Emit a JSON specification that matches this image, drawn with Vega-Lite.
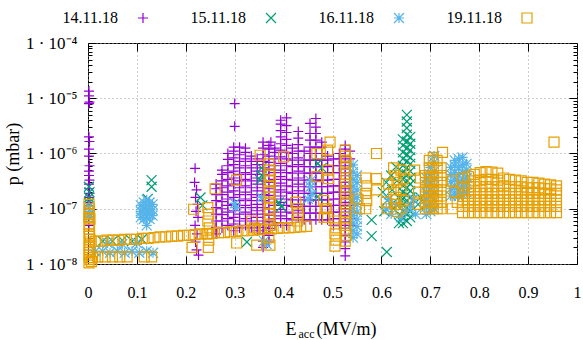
{
"$schema": "https://vega.github.io/schema/vega-lite/v6.json",
"width": 489, "height": 221,
"autosize": {"type": "none"},
"padding": {"left": 88, "top": 43, "right": 6, "bottom": 76},
"background": "white",
"config": {
 "view": {"stroke": "black", "strokeWidth": 1},
 "font": "Liberation Serif",
 "axis": {"labelFont": "Liberation Serif", "labelFontSize": 16, "labelColor": "black", "titleFont": "Liberation Serif", "titleFontSize": 18, "titleFontWeight": "normal", "titleColor": "black", "tickColor": "black", "tickWidth": 1, "domain": false, "grid": false, "labelFlush": false, "labelOverlap": false},
 "legend": {"orient": "none", "legendX": 47, "legendY": -33, "direction": "horizontal", "columnPadding": 39, "labelOffset": -33, "labelAlign": "right", "labelFont": "Liberation Serif", "labelFontSize": 16, "labelColor": "black", "symbolStrokeWidth": 1.2, "symbolSize": 100, "padding": 0}
},
"datasets": {
"d14": [
{"E":0.002,"p":1.35e-5},{"E":0.002,"p":1.1e-5},{"E":0.003,"p":8.5e-6},{"E":0.002,"p":8e-6},{"E":0.002,"p":2e-6},{"E":0.003,"p":1.65e-6},{"E":0.002,"p":1.2e-6},{"E":0.002,"p":9e-7},{"E":0.003,"p":6e-7},{"E":0.002,"p":4.8e-7},{"E":0.002,"p":4e-7},{"E":0.003,"p":3.3e-7},{"E":0.002,"p":2.8e-7},{"E":0.002,"p":2.3e-7},{"E":0.003,"p":1.9e-7},{"E":0.002,"p":1.6e-7},{"E":0.002,"p":1.3e-7},{"E":0.003,"p":1e-7},{"E":0.002,"p":7e-8},{"E":0.002,"p":5e-8},
{"E":0.219,"p":5.4e-7},{"E":0.218,"p":3e-7},{"E":0.222,"p":2.2e-7},{"E":0.22,"p":1.6e-7},{"E":0.224,"p":1.2e-7},{"E":0.221,"p":9e-8},{"E":0.225,"p":7e-8},{"E":0.219,"p":5e-8},{"E":0.223,"p":3.5e-8},{"E":0.22,"p":2.5e-8},{"E":0.222,"p":1.8e-8},{"E":0.226,"p":1.45e-8},
{"E":0.3,"p":8e-6},{"E":0.3,"p":3.1e-6},{"E":0.374,"p":1.6e-6},
{"E":0.262,"p":3.5e-8},{"E":0.262,"p":4.6e-8},{"E":0.262,"p":6e-8},{"E":0.262,"p":8e-8},{"E":0.262,"p":1.05e-7},{"E":0.262,"p":1.4e-7},{"E":0.262,"p":1.8e-7},{"E":0.262,"p":2.3e-7},{"E":0.262,"p":2.8e-7},
{"E":0.274,"p":4.5e-8},{"E":0.274,"p":6e-8},{"E":0.274,"p":7.8e-8},{"E":0.274,"p":1e-7},{"E":0.274,"p":1.35e-7},{"E":0.274,"p":1.8e-7},{"E":0.274,"p":2.4e-7},{"E":0.274,"p":3.2e-7},{"E":0.274,"p":4.2e-7},{"E":0.274,"p":5e-7},
{"E":0.286,"p":5e-8},{"E":0.286,"p":6.6e-8},{"E":0.286,"p":8.7e-8},{"E":0.286,"p":1.15e-7},{"E":0.286,"p":1.5e-7},{"E":0.286,"p":2e-7},{"E":0.286,"p":2.6e-7},{"E":0.286,"p":3.4e-7},{"E":0.286,"p":4.5e-7},{"E":0.286,"p":6e-7},{"E":0.286,"p":7.8e-7},{"E":0.286,"p":1e-6},
{"E":0.298,"p":4e-8},{"E":0.298,"p":5.3e-8},{"E":0.298,"p":7e-8},{"E":0.298,"p":9.2e-8},{"E":0.298,"p":1.2e-7},{"E":0.298,"p":1.6e-7},{"E":0.298,"p":2.1e-7},{"E":0.298,"p":2.8e-7},{"E":0.298,"p":3.6e-7},{"E":0.298,"p":4.8e-7},{"E":0.298,"p":6.3e-7},{"E":0.298,"p":8.3e-7},{"E":0.298,"p":1.1e-6},{"E":0.298,"p":1.3e-6},
{"E":0.31,"p":4.5e-8},{"E":0.31,"p":6e-8},{"E":0.31,"p":8e-8},{"E":0.31,"p":1.05e-7},{"E":0.31,"p":1.4e-7},{"E":0.31,"p":1.8e-7},{"E":0.31,"p":2.4e-7},{"E":0.31,"p":3.2e-7},{"E":0.31,"p":4.2e-7},{"E":0.31,"p":5.5e-7},{"E":0.31,"p":7.2e-7},{"E":0.31,"p":9.5e-7},{"E":0.31,"p":1.3e-6},
{"E":0.322,"p":5e-8},{"E":0.322,"p":6.6e-8},{"E":0.322,"p":8.7e-8},{"E":0.322,"p":1.15e-7},{"E":0.322,"p":1.5e-7},{"E":0.322,"p":2e-7},{"E":0.322,"p":2.6e-7},{"E":0.322,"p":3.4e-7},{"E":0.322,"p":4.5e-7},{"E":0.322,"p":6e-7},{"E":0.322,"p":8e-7},{"E":0.322,"p":1.05e-6},{"E":0.322,"p":1.25e-6},
{"E":0.334,"p":4.5e-8},{"E":0.334,"p":6e-8},{"E":0.334,"p":8e-8},{"E":0.334,"p":1.05e-7},{"E":0.334,"p":1.4e-7},{"E":0.334,"p":1.8e-7},{"E":0.334,"p":2.4e-7},{"E":0.334,"p":3.2e-7},{"E":0.334,"p":4.2e-7},{"E":0.334,"p":5.5e-7},{"E":0.334,"p":7.2e-7},{"E":0.334,"p":9e-7},
{"E":0.346,"p":4e-8},{"E":0.346,"p":5.3e-8},{"E":0.346,"p":7e-8},{"E":0.346,"p":9.2e-8},{"E":0.346,"p":1.2e-7},{"E":0.346,"p":1.6e-7},{"E":0.346,"p":2.1e-7},{"E":0.346,"p":2.8e-7},{"E":0.346,"p":3.6e-7},{"E":0.346,"p":4.8e-7},{"E":0.346,"p":6.3e-7},{"E":0.346,"p":8e-7},
{"E":0.358,"p":2e-8},{"E":0.358,"p":2.6e-8},{"E":0.358,"p":3.5e-8},{"E":0.358,"p":4.6e-8},{"E":0.358,"p":6e-8},{"E":0.358,"p":8e-8},{"E":0.358,"p":1.05e-7},{"E":0.358,"p":1.4e-7},{"E":0.358,"p":1.8e-7},{"E":0.358,"p":2.4e-7},{"E":0.358,"p":3.2e-7},{"E":0.358,"p":4.2e-7},{"E":0.358,"p":5.5e-7},{"E":0.358,"p":7.2e-7},{"E":0.358,"p":9.5e-7},{"E":0.358,"p":1.25e-6},{"E":0.358,"p":1.6e-6},
{"E":0.37,"p":2.5e-8},{"E":0.37,"p":3.3e-8},{"E":0.37,"p":4.4e-8},{"E":0.37,"p":5.8e-8},{"E":0.37,"p":7.6e-8},{"E":0.37,"p":1e-7},{"E":0.37,"p":1.3e-7},{"E":0.37,"p":1.75e-7},{"E":0.37,"p":2.3e-7},{"E":0.37,"p":3e-7},{"E":0.37,"p":4e-7},{"E":0.37,"p":5.2e-7},{"E":0.37,"p":6.9e-7},{"E":0.37,"p":9e-7},{"E":0.37,"p":1.2e-6},{"E":0.37,"p":1.4e-6},
{"E":0.382,"p":5e-8},{"E":0.382,"p":6.6e-8},{"E":0.382,"p":8.7e-8},{"E":0.382,"p":1.15e-7},{"E":0.382,"p":1.5e-7},{"E":0.382,"p":2e-7},{"E":0.382,"p":2.6e-7},{"E":0.382,"p":3.4e-7},{"E":0.382,"p":4.5e-7},{"E":0.382,"p":6e-7},{"E":0.382,"p":8e-7},{"E":0.382,"p":1.05e-6},{"E":0.382,"p":1.25e-6},
{"E":0.394,"p":5.6e-8},{"E":0.394,"p":7.4e-8},{"E":0.394,"p":9.7e-8},{"E":0.394,"p":1.3e-7},{"E":0.394,"p":1.7e-7},{"E":0.394,"p":2.2e-7},{"E":0.394,"p":2.9e-7},{"E":0.394,"p":3.8e-7},{"E":0.394,"p":5e-7},{"E":0.394,"p":6.6e-7},{"E":0.394,"p":8.7e-7},{"E":0.394,"p":1.15e-6},{"E":0.394,"p":1.5e-6},{"E":0.394,"p":2e-6},{"E":0.394,"p":2.6e-6},{"E":0.394,"p":3.4e-6},{"E":0.394,"p":4e-6},
{"E":0.406,"p":5e-8},{"E":0.406,"p":6.6e-8},{"E":0.406,"p":8.7e-8},{"E":0.406,"p":1.15e-7},{"E":0.406,"p":1.5e-7},{"E":0.406,"p":2e-7},{"E":0.406,"p":2.6e-7},{"E":0.406,"p":3.4e-7},{"E":0.406,"p":4.5e-7},{"E":0.406,"p":6e-7},{"E":0.406,"p":8e-7},{"E":0.406,"p":1.05e-6},{"E":0.406,"p":1.4e-6},{"E":0.406,"p":1.8e-6},{"E":0.406,"p":2.4e-6},{"E":0.406,"p":3.2e-6},{"E":0.406,"p":4.4e-6},
{"E":0.418,"p":6.3e-8},{"E":0.418,"p":8.3e-8},{"E":0.418,"p":1.1e-7},{"E":0.418,"p":1.45e-7},{"E":0.418,"p":1.9e-7},{"E":0.418,"p":2.5e-7},{"E":0.418,"p":3.3e-7},{"E":0.418,"p":4.4e-7},{"E":0.418,"p":5.8e-7},{"E":0.418,"p":7.6e-7},{"E":0.418,"p":1e-6},{"E":0.418,"p":1.25e-6},
{"E":0.43,"p":7e-8},{"E":0.43,"p":9.2e-8},{"E":0.43,"p":1.2e-7},{"E":0.43,"p":1.6e-7},{"E":0.43,"p":2.1e-7},{"E":0.43,"p":2.8e-7},{"E":0.43,"p":3.6e-7},{"E":0.43,"p":4.8e-7},{"E":0.43,"p":6.3e-7},{"E":0.43,"p":8.3e-7},{"E":0.43,"p":1.1e-6},{"E":0.43,"p":1.45e-6},{"E":0.43,"p":1.9e-6},{"E":0.43,"p":2.5e-6},
{"E":0.442,"p":6.3e-8},{"E":0.442,"p":8.3e-8},{"E":0.442,"p":1.1e-7},{"E":0.442,"p":1.45e-7},{"E":0.442,"p":1.9e-7},{"E":0.442,"p":2.5e-7},{"E":0.442,"p":3.3e-7},{"E":0.442,"p":4.4e-7},{"E":0.442,"p":5.8e-7},{"E":0.442,"p":7.6e-7},{"E":0.442,"p":1.1e-6},
{"E":0.454,"p":6.3e-8},{"E":0.454,"p":8.3e-8},{"E":0.454,"p":1.1e-7},{"E":0.454,"p":1.45e-7},{"E":0.454,"p":1.9e-7},{"E":0.454,"p":2.5e-7},{"E":0.454,"p":3.3e-7},{"E":0.454,"p":4.4e-7},{"E":0.454,"p":5.8e-7},{"E":0.454,"p":7.6e-7},{"E":0.454,"p":1e-6},{"E":0.454,"p":1.3e-6},{"E":0.454,"p":1.75e-6},{"E":0.454,"p":2.3e-6},{"E":0.454,"p":3.5e-6},
{"E":0.466,"p":6.3e-8},{"E":0.466,"p":8.3e-8},{"E":0.466,"p":1.1e-7},{"E":0.466,"p":1.45e-7},{"E":0.466,"p":1.9e-7},{"E":0.466,"p":2.5e-7},{"E":0.466,"p":3.3e-7},{"E":0.466,"p":4.4e-7},{"E":0.466,"p":5.8e-7},{"E":0.466,"p":7.6e-7},{"E":0.466,"p":1e-6},{"E":0.466,"p":1.3e-6},{"E":0.466,"p":1.75e-6},{"E":0.466,"p":2.3e-6},{"E":0.466,"p":3e-6},{"E":0.466,"p":4.3e-6},
{"E":0.478,"p":6.3e-8},{"E":0.478,"p":8.3e-8},{"E":0.478,"p":1.1e-7},{"E":0.478,"p":1.45e-7},{"E":0.478,"p":1.9e-7},{"E":0.478,"p":2.5e-7},{"E":0.478,"p":3.3e-7},{"E":0.478,"p":4.4e-7},{"E":0.478,"p":5.8e-7},{"E":0.478,"p":7.6e-7},{"E":0.478,"p":1e-6},{"E":0.478,"p":1.3e-6},{"E":0.478,"p":1.6e-6},
{"E":0.49,"p":6.3e-8},{"E":0.49,"p":8.3e-8},{"E":0.49,"p":1.1e-7},{"E":0.49,"p":1.45e-7},{"E":0.49,"p":1.9e-7},{"E":0.49,"p":2.5e-7},{"E":0.49,"p":3.3e-7},{"E":0.49,"p":4.4e-7},{"E":0.49,"p":5.8e-7},{"E":0.49,"p":7.6e-7},{"E":0.49,"p":9e-7},
{"E":0.502,"p":5e-8},{"E":0.502,"p":6.6e-8},{"E":0.502,"p":8.7e-8},{"E":0.502,"p":1.15e-7},{"E":0.502,"p":1.5e-7},{"E":0.502,"p":2e-7},{"E":0.502,"p":2.6e-7},{"E":0.502,"p":3.4e-7},{"E":0.502,"p":4.5e-7},{"E":0.502,"p":6e-7},{"E":0.502,"p":8e-7},
{"E":0.514,"p":5e-8},{"E":0.514,"p":6.6e-8},{"E":0.514,"p":8.7e-8},{"E":0.514,"p":1.15e-7},{"E":0.514,"p":1.5e-7},{"E":0.514,"p":2e-7},{"E":0.514,"p":2.6e-7},{"E":0.514,"p":3.4e-7},{"E":0.514,"p":4.5e-7},{"E":0.514,"p":6e-7},{"E":0.514,"p":8e-7},{"E":0.514,"p":1e-6},
{"E":0.526,"p":1.4e-8},{"E":0.526,"p":1.9e-8},{"E":0.526,"p":2.5e-8},{"E":0.526,"p":3.3e-8},{"E":0.526,"p":4.4e-8},{"E":0.526,"p":5.8e-8},{"E":0.526,"p":7.6e-8},{"E":0.526,"p":1e-7},{"E":0.526,"p":1.3e-7},{"E":0.526,"p":1.75e-7},{"E":0.526,"p":2.3e-7},{"E":0.526,"p":3e-7},{"E":0.526,"p":4e-7},{"E":0.526,"p":5.2e-7},{"E":0.526,"p":6.9e-7},{"E":0.526,"p":9e-7},{"E":0.526,"p":1.2e-6},{"E":0.526,"p":1.4e-6},
{"E":0.536,"p":5e-8},{"E":0.536,"p":6.6e-8},{"E":0.536,"p":8.7e-8},{"E":0.536,"p":1.15e-7},{"E":0.536,"p":1.5e-7},{"E":0.536,"p":2e-7},{"E":0.536,"p":2.6e-7},{"E":0.536,"p":3.4e-7},{"E":0.536,"p":4.5e-7},{"E":0.536,"p":6e-7},{"E":0.536,"p":8e-7},{"E":0.536,"p":1.1e-6}
],
"d15": [
{"E":0.002,"p":2.5e-7},{"E":0.003,"p":2e-7},{"E":0.002,"p":1.6e-7},{"E":0.002,"p":1.3e-7},
{"E":0.03,"p":2.6e-8},{"E":0.05,"p":2.6e-8},{"E":0.07,"p":2.7e-8},{"E":0.09,"p":2.6e-8},{"E":0.11,"p":2.8e-8},
{"E":0.13,"p":3.3e-7},{"E":0.13,"p":2.5e-7},{"E":0.122,"p":1.5e-7},{"E":0.116,"p":1e-7},
{"E":0.23,"p":1.6e-7},{"E":0.234,"p":1.15e-7},{"E":0.325,"p":2.5e-8},
{"E":0.355,"p":5.5e-7},{"E":0.355,"p":4e-7},{"E":0.352,"p":3.3e-7},{"E":0.395,"p":1.1e-7},{"E":0.39,"p":1.3e-7},
{"E":0.47,"p":6.6e-7},{"E":0.47,"p":1.65e-7},{"E":0.478,"p":5.5e-7},
{"E":0.58,"p":6.3e-8},{"E":0.58,"p":3.2e-8},{"E":0.611,"p":1.65e-8},
{"E":0.603,"p":2e-7},{"E":0.61,"p":3e-7},{"E":0.612,"p":1.4e-7},{"E":0.62,"p":4e-7},{"E":0.622,"p":2.2e-7},{"E":0.625,"p":1e-7},{"E":0.63,"p":5.7e-7},{"E":0.632,"p":3.2e-7},{"E":0.635,"p":1.6e-7},{"E":0.606,"p":9e-8},{"E":0.636,"p":5.5e-8},
{"E":0.644,"p":5.5e-8},{"E":0.644,"p":7e-8},{"E":0.644,"p":9e-8},{"E":0.644,"p":1.15e-7},{"E":0.644,"p":1.5e-7},{"E":0.644,"p":2e-7},{"E":0.644,"p":2.6e-7},{"E":0.644,"p":3.4e-7},{"E":0.644,"p":4.5e-7},{"E":0.644,"p":6e-7},{"E":0.644,"p":8e-7},{"E":0.644,"p":1.05e-6},{"E":0.644,"p":1.4e-6},{"E":0.644,"p":1.8e-6},
{"E":0.652,"p":6e-8},{"E":0.652,"p":8e-8},{"E":0.652,"p":1.05e-7},{"E":0.652,"p":1.4e-7},{"E":0.652,"p":1.8e-7},{"E":0.652,"p":2.4e-7},{"E":0.652,"p":3.2e-7},{"E":0.652,"p":4.2e-7},{"E":0.652,"p":5.5e-7},{"E":0.652,"p":7.2e-7},{"E":0.652,"p":9.5e-7},{"E":0.652,"p":1.25e-6},{"E":0.652,"p":1.65e-6},{"E":0.652,"p":2.2e-6},{"E":0.652,"p":2.9e-6},{"E":0.652,"p":3.8e-6},{"E":0.652,"p":5e-6},
{"E":0.659,"p":7e-8},{"E":0.659,"p":9e-8},{"E":0.659,"p":1.2e-7},{"E":0.659,"p":1.6e-7},{"E":0.659,"p":2.1e-7},{"E":0.659,"p":2.8e-7},{"E":0.659,"p":3.6e-7},{"E":0.659,"p":4.8e-7},{"E":0.659,"p":6.5e-7},{"E":0.659,"p":8.5e-7},{"E":0.659,"p":1.15e-6},{"E":0.659,"p":1.5e-6},{"E":0.659,"p":2e-6},
{"E":0.675,"p":1.2e-7},{"E":0.68,"p":1.6e-7}
],
"d16": [
{"E":0.002,"p":1.1e-7},{"E":0.003,"p":9e-8},{"E":0.002,"p":8e-8},{"E":0.003,"p":7e-8},
{"E":0.015,"p":1.7e-8},{"E":0.03,"p":1.7e-8},{"E":0.045,"p":1.6e-8},{"E":0.06,"p":1.7e-8},{"E":0.075,"p":1.6e-8},{"E":0.09,"p":1.7e-8},{"E":0.105,"p":1.6e-8},{"E":0.12,"p":1.7e-8},{"E":0.133,"p":1.6e-8},
{"E":0.04,"p":2.4e-8},{"E":0.07,"p":2.3e-8},{"E":0.1,"p":2.4e-8},
{"E":0.108,"p":7e-8},{"E":0.108,"p":9e-8},{"E":0.108,"p":1.15e-7},{"E":0.114,"p":6.5e-8},{"E":0.114,"p":8e-8},{"E":0.114,"p":1e-7},{"E":0.114,"p":1.3e-7},{"E":0.12,"p":7e-8},{"E":0.12,"p":9e-8},{"E":0.12,"p":1.15e-7},{"E":0.12,"p":1.45e-7},{"E":0.126,"p":6.5e-8},{"E":0.126,"p":8e-8},{"E":0.126,"p":1e-7},{"E":0.126,"p":1.3e-7},{"E":0.132,"p":7.5e-8},{"E":0.132,"p":9.5e-8},{"E":0.132,"p":1.2e-7},{"E":0.12,"p":5e-8},
{"E":0.3,"p":1.25e-7},{"E":0.302,"p":1.05e-7},{"E":0.355,"p":1.6e-7},{"E":0.36,"p":2.6e-8},{"E":0.365,"p":2.3e-8},
{"E":0.455,"p":3.2e-7},{"E":0.455,"p":2.5e-7},{"E":0.458,"p":1.8e-7},{"E":0.45,"p":1.5e-7},
{"E":0.542,"p":3e-8},{"E":0.542,"p":4e-8},{"E":0.542,"p":5.5e-8},{"E":0.542,"p":7.5e-8},{"E":0.542,"p":1e-7},{"E":0.542,"p":1.35e-7},{"E":0.542,"p":1.8e-7},{"E":0.542,"p":2.5e-7},{"E":0.542,"p":3.4e-7},{"E":0.542,"p":4.6e-7},{"E":0.542,"p":6.2e-7},
{"E":0.55,"p":3.5e-8},{"E":0.55,"p":4.8e-8},{"E":0.55,"p":6.5e-8},{"E":0.55,"p":8.7e-8},{"E":0.55,"p":1.2e-7},{"E":0.55,"p":1.6e-7},{"E":0.55,"p":2.2e-7},{"E":0.55,"p":3e-7},{"E":0.55,"p":4e-7},
{"E":0.61,"p":1e-7},{"E":0.62,"p":8e-8},{"E":0.63,"p":1.2e-7},{"E":0.64,"p":7e-8},{"E":0.65,"p":9e-8},{"E":0.66,"p":1.1e-7},{"E":0.67,"p":8e-8},{"E":0.665,"p":1.5e-7},{"E":0.615,"p":1.5e-7},
{"E":0.692,"p":8e-8},{"E":0.692,"p":1.1e-7},{"E":0.692,"p":1.5e-7},{"E":0.692,"p":2e-7},{"E":0.692,"p":2.7e-7},{"E":0.692,"p":3.6e-7},
{"E":0.7,"p":9e-8},{"E":0.7,"p":1.2e-7},{"E":0.7,"p":1.7e-7},{"E":0.7,"p":2.3e-7},{"E":0.7,"p":3.1e-7},{"E":0.7,"p":4.2e-7},{"E":0.7,"p":5.6e-7},
{"E":0.708,"p":1e-7},{"E":0.708,"p":1.4e-7},{"E":0.708,"p":1.9e-7},{"E":0.708,"p":2.6e-7},{"E":0.708,"p":3.5e-7},{"E":0.708,"p":4.8e-7},{"E":0.708,"p":7e-7},{"E":0.708,"p":9e-7},
{"E":0.742,"p":1.7e-7},{"E":0.742,"p":2.3e-7},{"E":0.742,"p":3.1e-7},{"E":0.742,"p":4.2e-7},{"E":0.742,"p":5.6e-7},
{"E":0.75,"p":1.8e-7},{"E":0.75,"p":2.4e-7},{"E":0.75,"p":3.3e-7},{"E":0.75,"p":4.5e-7},{"E":0.75,"p":6e-7},{"E":0.75,"p":7.5e-7},
{"E":0.758,"p":1.7e-7},{"E":0.758,"p":2.3e-7},{"E":0.758,"p":3.1e-7},{"E":0.758,"p":4.2e-7},{"E":0.758,"p":5.6e-7},{"E":0.758,"p":8e-7},
{"E":0.766,"p":1.8e-7},{"E":0.766,"p":2.4e-7},{"E":0.766,"p":3.3e-7},{"E":0.766,"p":4.5e-7},{"E":0.766,"p":6.2e-7},{"E":0.766,"p":8.5e-7},
{"E":0.774,"p":2e-7},{"E":0.774,"p":2.7e-7},{"E":0.774,"p":3.6e-7},{"E":0.774,"p":5e-7},{"E":0.774,"p":6.5e-7}
],
"d19": [
{"E":0.002,"p":1.2e-7},{"E":0.003,"p":1e-7},{"E":0.003,"p":9e-8},{"E":0.002,"p":8e-8},{"E":0.002,"p":7e-8},{"E":0.004,"p":6.5e-8},{"E":0.002,"p":5.3e-8},{"E":0.003,"p":4.8e-8},{"E":0.003,"p":4.3e-8},{"E":0.002,"p":3.5e-8},{"E":0.003,"p":3.2e-8},{"E":0.004,"p":2.8e-8},{"E":0.003,"p":2.5e-8},{"E":0.002,"p":2.2e-8},{"E":0.003,"p":2e-8},{"E":0.003,"p":1.8e-8},{"E":0.003,"p":1.6e-8},{"E":0.002,"p":1.45e-8},{"E":0.003,"p":1.3e-8},{"E":0.004,"p":1.2e-8},{"E":0.002,"p":1.05e-8},{"E":0.007,"p":1.1e-8},{"E":0.009,"p":1.3e-8},
{"E":0.02,"p":1.35e-8},{"E":0.035,"p":1.35e-8},{"E":0.05,"p":1.35e-8},{"E":0.065,"p":1.35e-8},{"E":0.08,"p":1.35e-8},{"E":0.115,"p":1.35e-8},{"E":0.13,"p":1.35e-8},
{"E":0.015,"p":2.6e-8},{"E":0.027,"p":2.6e-8},{"E":0.039,"p":2.7e-8},{"E":0.051,"p":2.7e-8},{"E":0.063,"p":2.7e-8},{"E":0.075,"p":2.8e-8},{"E":0.087,"p":2.8e-8},{"E":0.099,"p":2.8e-8},{"E":0.111,"p":2.9e-8},{"E":0.123,"p":2.9e-8},{"E":0.135,"p":3e-8},{"E":0.147,"p":3.1e-8},{"E":0.159,"p":3.1e-8},{"E":0.171,"p":3.2e-8},{"E":0.183,"p":3.2e-8},{"E":0.195,"p":3.3e-8},{"E":0.207,"p":3.3e-8},{"E":0.219,"p":3.4e-8},{"E":0.231,"p":3.5e-8},{"E":0.243,"p":3.5e-8},{"E":0.255,"p":3.6e-8},{"E":0.267,"p":3.7e-8},{"E":0.279,"p":3.7e-8},{"E":0.291,"p":3.8e-8},{"E":0.303,"p":3.9e-8},{"E":0.315,"p":4e-8},{"E":0.327,"p":4e-8},{"E":0.339,"p":4.1e-8},{"E":0.351,"p":4.2e-8},{"E":0.363,"p":4.3e-8},{"E":0.375,"p":4.3e-8},{"E":0.387,"p":4.4e-8},{"E":0.399,"p":4.5e-8},{"E":0.411,"p":4.5e-8},{"E":0.423,"p":4.6e-8},{"E":0.435,"p":4.7e-8},{"E":0.447,"p":4.8e-8},
{"E":0.216,"p":9.8e-8},{"E":0.213,"p":2e-8},
{"E":0.245,"p":1.05e-7},{"E":0.247,"p":8e-8},{"E":0.245,"p":6e-8},{"E":0.248,"p":4.5e-8},{"E":0.245,"p":3.5e-8},{"E":0.247,"p":2.7e-8},{"E":0.246,"p":2e-8},
{"E":0.26,"p":2.3e-7},{"E":0.304,"p":3.3e-7},{"E":0.304,"p":2.4e-8},{"E":0.352,"p":9.3e-7},
{"E":0.37,"p":6.5e-7},{"E":0.372,"p":5e-7},{"E":0.37,"p":4e-7},{"E":0.373,"p":3.2e-7},{"E":0.37,"p":2.5e-7},{"E":0.372,"p":2e-7},{"E":0.37,"p":1.6e-7},{"E":0.373,"p":1.25e-7},{"E":0.37,"p":1e-7},{"E":0.372,"p":8e-8},{"E":0.37,"p":6.3e-8},{"E":0.372,"p":5e-8},{"E":0.37,"p":3e-8},{"E":0.372,"p":2.2e-8},
{"E":0.335,"p":6e-8},{"E":0.34,"p":4.5e-8},{"E":0.345,"p":2.2e-8},{"E":0.4,"p":8.7e-7},
{"E":0.425,"p":1.3e-7},{"E":0.428,"p":1e-7},{"E":0.43,"p":8e-8},{"E":0.428,"p":6e-8},
{"E":0.468,"p":1e-6},{"E":0.468,"p":3.8e-7},
{"E":0.495,"p":1.6e-6},{"E":0.49,"p":1.15e-6},{"E":0.49,"p":5e-7},{"E":0.492,"p":3.5e-7},{"E":0.488,"p":1e-7},{"E":0.49,"p":7e-8},{"E":0.475,"p":1e-6},
{"E":0.482,"p":1.4e-7},{"E":0.485,"p":1e-7},{"E":0.483,"p":7e-8},
{"E":0.526,"p":1.15e-6},{"E":0.526,"p":9e-7},{"E":0.528,"p":7e-7},{"E":0.526,"p":5.5e-7},{"E":0.528,"p":4.2e-7},{"E":0.526,"p":3.2e-7},{"E":0.528,"p":2.5e-7},{"E":0.526,"p":2e-7},{"E":0.528,"p":1.5e-7},{"E":0.526,"p":1.2e-7},{"E":0.528,"p":9e-8},{"E":0.526,"p":7e-8},{"E":0.528,"p":5.5e-8},{"E":0.526,"p":4.3e-8},{"E":0.528,"p":3.3e-8},{"E":0.526,"p":2.6e-8},
{"E":0.505,"p":6e-8},{"E":0.507,"p":4.5e-8},{"E":0.505,"p":3.5e-8},{"E":0.507,"p":2.7e-8},{"E":0.505,"p":2.1e-8},
{"E":0.568,"p":3.6e-7},{"E":0.57,"p":2.6e-7},{"E":0.568,"p":1.9e-7},{"E":0.57,"p":1.4e-7},{"E":0.568,"p":1e-7},
{"E":0.552,"p":1.5e-7},{"E":0.555,"p":1e-7},
{"E":0.59,"p":1e-6},{"E":0.59,"p":3.5e-7},{"E":0.59,"p":2.2e-7},
{"E":0.625,"p":5.5e-7},{"E":0.628,"p":4e-7},{"E":0.632,"p":3e-7},{"E":0.625,"p":2.2e-7},{"E":0.63,"p":1.6e-7},{"E":0.628,"p":1.2e-7},{"E":0.632,"p":9e-8},{"E":0.64,"p":5e-7},{"E":0.645,"p":3.5e-7},{"E":0.64,"p":2.2e-7},{"E":0.645,"p":1.4e-7},{"E":0.64,"p":1e-7},{"E":0.61,"p":1.3e-7},{"E":0.612,"p":1e-7},{"E":0.615,"p":2.8e-7},
{"E":0.668,"p":5e-7},{"E":0.676,"p":2e-7},{"E":0.676,"p":1.2e-7},{"E":0.68,"p":3.6e-7},
{"E":0.69,"p":1e-7},{"E":0.69,"p":1.3e-7},{"E":0.69,"p":1.7e-7},{"E":0.69,"p":2.2e-7},{"E":0.69,"p":3e-7},{"E":0.69,"p":4e-7},
{"E":0.698,"p":1e-7},{"E":0.698,"p":1.3e-7},{"E":0.698,"p":1.7e-7},{"E":0.698,"p":2.2e-7},{"E":0.698,"p":3e-7},{"E":0.698,"p":4e-7},{"E":0.698,"p":5.5e-7},{"E":0.698,"p":7.5e-7},
{"E":0.706,"p":1e-7},{"E":0.706,"p":1.3e-7},{"E":0.706,"p":1.7e-7},{"E":0.706,"p":2.2e-7},{"E":0.706,"p":3e-7},{"E":0.706,"p":4e-7},{"E":0.706,"p":5.5e-7},{"E":0.706,"p":8.5e-7},
{"E":0.714,"p":1e-7},{"E":0.714,"p":1.3e-7},{"E":0.714,"p":1.7e-7},{"E":0.714,"p":2.2e-7},{"E":0.714,"p":3e-7},{"E":0.714,"p":4e-7},{"E":0.714,"p":5.5e-7},{"E":0.714,"p":7.5e-7},
{"E":0.722,"p":1e-7},{"E":0.722,"p":1.3e-7},{"E":0.722,"p":1.7e-7},{"E":0.722,"p":2.2e-7},{"E":0.722,"p":3e-7},{"E":0.722,"p":4e-7},{"E":0.722,"p":5.5e-7},{"E":0.725,"p":1.05e-6},
{"E":0.745,"p":3.2e-7},{"E":0.75,"p":2e-7},{"E":0.755,"p":1.3e-7},{"E":0.745,"p":1e-7},
{"E":0.766,"p":8.5e-8},{"E":0.766,"p":1.1e-7},{"E":0.766,"p":1.45e-7},{"E":0.766,"p":1.9e-7},{"E":0.766,"p":2.5e-7},{"E":0.766,"p":3.5e-7},
{"E":0.778,"p":8.5e-8},{"E":0.778,"p":1.1e-7},{"E":0.778,"p":1.45e-7},{"E":0.778,"p":1.9e-7},{"E":0.778,"p":2.5e-7},{"E":0.778,"p":3.8e-7},
{"E":0.79,"p":8.5e-8},{"E":0.79,"p":1.1e-7},{"E":0.79,"p":1.45e-7},{"E":0.79,"p":1.9e-7},{"E":0.79,"p":2.5e-7},{"E":0.79,"p":3.2e-7},{"E":0.79,"p":4.2e-7},
{"E":0.802,"p":8.5e-8},{"E":0.802,"p":1.1e-7},{"E":0.802,"p":1.45e-7},{"E":0.802,"p":1.9e-7},{"E":0.802,"p":2.5e-7},{"E":0.802,"p":3.3e-7},{"E":0.802,"p":4.5e-7},
{"E":0.814,"p":8.5e-8},{"E":0.814,"p":1.1e-7},{"E":0.814,"p":1.45e-7},{"E":0.814,"p":1.9e-7},{"E":0.814,"p":2.5e-7},{"E":0.814,"p":3.4e-7},{"E":0.814,"p":4.7e-7},
{"E":0.826,"p":8.5e-8},{"E":0.826,"p":1.1e-7},{"E":0.826,"p":1.45e-7},{"E":0.826,"p":1.9e-7},{"E":0.826,"p":2.5e-7},{"E":0.826,"p":3.4e-7},{"E":0.826,"p":4.6e-7},
{"E":0.838,"p":8.5e-8},{"E":0.838,"p":1.1e-7},{"E":0.838,"p":1.45e-7},{"E":0.838,"p":1.9e-7},{"E":0.838,"p":2.5e-7},{"E":0.838,"p":3.3e-7},{"E":0.838,"p":4.4e-7},
{"E":0.85,"p":8.5e-8},{"E":0.85,"p":1.1e-7},{"E":0.85,"p":1.45e-7},{"E":0.85,"p":1.9e-7},{"E":0.85,"p":2.6e-7},{"E":0.85,"p":3.6e-7},
{"E":0.862,"p":8.5e-8},{"E":0.862,"p":1.1e-7},{"E":0.862,"p":1.45e-7},{"E":0.862,"p":1.9e-7},{"E":0.862,"p":2.5e-7},{"E":0.862,"p":3.4e-7},
{"E":0.874,"p":8.5e-8},{"E":0.874,"p":1.1e-7},{"E":0.874,"p":1.45e-7},{"E":0.874,"p":1.9e-7},{"E":0.874,"p":2.5e-7},{"E":0.874,"p":3.3e-7},
{"E":0.886,"p":8.5e-8},{"E":0.886,"p":1.1e-7},{"E":0.886,"p":1.45e-7},{"E":0.886,"p":1.9e-7},{"E":0.886,"p":2.5e-7},{"E":0.886,"p":3.2e-7},
{"E":0.898,"p":8.5e-8},{"E":0.898,"p":1.1e-7},{"E":0.898,"p":1.45e-7},{"E":0.898,"p":1.9e-7},{"E":0.898,"p":2.4e-7},{"E":0.898,"p":3e-7},
{"E":0.91,"p":8.5e-8},{"E":0.91,"p":1.1e-7},{"E":0.91,"p":1.45e-7},{"E":0.91,"p":1.9e-7},{"E":0.91,"p":2.4e-7},{"E":0.91,"p":3e-7},
{"E":0.922,"p":8.5e-8},{"E":0.922,"p":1.1e-7},{"E":0.922,"p":1.45e-7},{"E":0.922,"p":1.9e-7},{"E":0.922,"p":2.4e-7},{"E":0.922,"p":2.9e-7},
{"E":0.934,"p":8.5e-8},{"E":0.934,"p":1.1e-7},{"E":0.934,"p":1.45e-7},{"E":0.934,"p":1.9e-7},{"E":0.934,"p":2.3e-7},{"E":0.934,"p":2.8e-7},
{"E":0.946,"p":8.5e-8},{"E":0.946,"p":1.1e-7},{"E":0.946,"p":1.45e-7},{"E":0.946,"p":1.9e-7},{"E":0.946,"p":2.3e-7},{"E":0.946,"p":2.7e-7},
{"E":0.958,"p":8.5e-8},{"E":0.958,"p":1.1e-7},{"E":0.958,"p":1.45e-7},{"E":0.958,"p":1.9e-7},{"E":0.958,"p":2.2e-7},{"E":0.958,"p":2.6e-7},
{"E":0.953,"p":1.6e-6}
]
},
"layer": [
{"data": {"name": "d14"},
 "mark": {"type": "point", "filled": false, "size": 100, "strokeWidth": 1.2, "opacity": 1},
 "encoding": {
  "x": {"field": "E", "type": "quantitative", "scale": {"domain": [0, 1], "nice": false, "zero": false},
   "axis": {"orient": "bottom", "values": [0,0.1,0.2,0.3,0.4,0.5,0.6,0.7,0.8,0.9,1], "format": "~g", "grid": true, "gridDash": [1,3], "gridColor": "#9a9a9a", "tickSize": -8, "labelPadding": 28, "title": "E", "titleX": 197, "titleY": 70, "titleAlign": "left", "titleBaseline": "alphabetic"}},
  "y": {"field": "p", "type": "quantitative", "scale": {"type": "log", "domain": [1e-8, 1e-4], "nice": false},
   "axis": {"orient": "left", "values": [1e-8,1e-7,1e-6,1e-5,1e-4], "labelExpr": "datum.value < 5e-8 ? '1 · 10⁻⁸' : datum.value < 5e-7 ? '1 · 10⁻⁷' : datum.value < 5e-6 ? '1 · 10⁻⁶' : datum.value < 5e-5 ? '1 · 10⁻⁵' : '1 · 10⁻⁴'", "labelFontSize": 17, "grid": true, "gridDash": [1,3], "gridColor": "#9a9a9a", "tickSize": -8, "labelPadding": 19, "title": "p (mbar)", "titlePadding": 3}},
  "color": {"datum": "14.11.18", "scale": {"domain": ["14.11.18","15.11.18","16.11.18","19.11.18"], "range": ["#9400d3","#009e73","#56b4e9","#e69f00"]}, "legend": {"title": null}},
  "shape": {"datum": "14.11.18", "scale": {"domain": ["14.11.18","15.11.18","16.11.18","19.11.18"], "range": ["M-1,0H1M0,-1V1", "M-1,-1L1,1M-1,1L1,-1", "M-1,0H1M0,-1V1M-1,-1L1,1M-1,1L1,-1", "M-1,-1H1V1H-1Z"]}, "legend": {"title": null}}
 }},
{"data": {"name": "d15"},
 "mark": {"type": "point", "filled": false, "size": 100, "strokeWidth": 1.2, "opacity": 1},
 "encoding": {
  "x": {"field": "E", "type": "quantitative", "axis": null},
  "y": {"field": "p", "type": "quantitative", "axis": null},
  "color": {"datum": "15.11.18", "legend": {"title": null}},
  "shape": {"datum": "15.11.18", "legend": {"title": null}}
 }},
{"data": {"name": "d16"},
 "mark": {"type": "point", "filled": false, "size": 100, "strokeWidth": 1.2, "opacity": 1},
 "encoding": {
  "x": {"field": "E", "type": "quantitative", "axis": null},
  "y": {"field": "p", "type": "quantitative", "axis": null},
  "color": {"datum": "16.11.18", "legend": {"title": null}},
  "shape": {"datum": "16.11.18", "legend": {"title": null}}
 }},
{"data": {"name": "d19"},
 "mark": {"type": "point", "filled": false, "size": 100, "strokeWidth": 1.2, "opacity": 1},
 "encoding": {
  "x": {"field": "E", "type": "quantitative", "axis": null},
  "y": {"field": "p", "type": "quantitative", "axis": null},
  "color": {"datum": "19.11.18", "legend": {"title": null}},
  "shape": {"datum": "19.11.18", "legend": {"title": null}}
 }},
{"data": {"name": "d19"},
 "mark": {"type": "point", "opacity": 0},
 "encoding": {
  "x": {"field": "E", "type": "quantitative", "axis": {"orient": "top", "values": [0,0.1,0.2,0.3,0.4,0.5,0.6,0.7,0.8,0.9,1], "labels": false, "tickSize": -8, "title": null}},
  "y": {"field": "p", "type": "quantitative", "axis": {"orient": "right", "values": [1e-8,1e-7,1e-6,1e-5,1e-4], "labels": false, "tickSize": -8, "title": null}}
 }},
{"data": {"name": "d19"},
 "mark": {"type": "point", "opacity": 0},
 "encoding": {
  "x": {"field": "E", "type": "quantitative", "axis": {"orient": "bottom", "labels": false, "ticks": false, "title": "acc", "titleFontSize": 12, "titleX": 210, "titleY": 73, "titleAlign": "left", "titleBaseline": "alphabetic"}},
  "y": {"field": "p", "type": "quantitative", "axis": {"orient": "left", "values": [2e-8,3e-8,4e-8,5e-8,6e-8,7e-8,8e-8,9e-8,2e-7,3e-7,4e-7,5e-7,6e-7,7e-7,8e-7,9e-7,2e-6,3e-6,4e-6,5e-6,6e-6,7e-6,8e-6,9e-6,2e-5,3e-5,4e-5,5e-5,6e-5,7e-5,8e-5,9e-5], "labels": false, "tickSize": -4, "title": null}}
 }},
{"data": {"name": "d19"},
 "mark": {"type": "point", "opacity": 0},
 "encoding": {
  "x": {"field": "E", "type": "quantitative", "axis": {"orient": "bottom", "labels": false, "ticks": false, "title": "(MV/m)", "titleX": 228, "titleY": 70, "titleAlign": "left", "titleBaseline": "alphabetic"}},
  "y": {"field": "p", "type": "quantitative", "axis": {"orient": "right", "values": [2e-8,3e-8,4e-8,5e-8,6e-8,7e-8,8e-8,9e-8,2e-7,3e-7,4e-7,5e-7,6e-7,7e-7,8e-7,9e-7,2e-6,3e-6,4e-6,5e-6,6e-6,7e-6,8e-6,9e-6,2e-5,3e-5,4e-5,5e-5,6e-5,7e-5,8e-5,9e-5], "labels": false, "tickSize": -4, "title": null}}
 }}
],
"resolve": {"axis": {"x": "independent", "y": "independent"}}
}
